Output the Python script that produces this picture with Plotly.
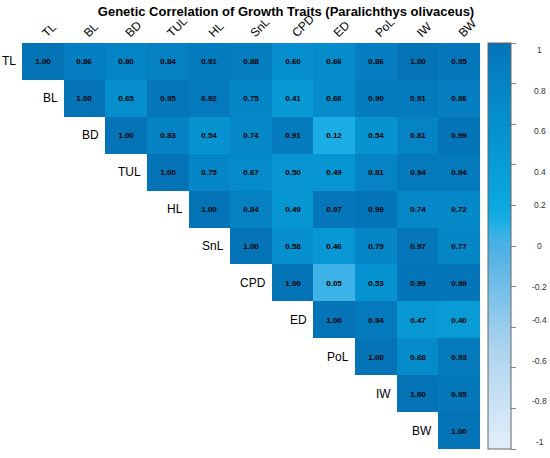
import plotly.graph_objects as go

traits = ["TL", "BL", "BD", "TUL", "HL", "SnL", "CPD", "ED", "PoL", "IW", "BW"]

# upper-triangle genetic correlations, one row per trait (starting at the diagonal)
r_TL = [1.00, 0.86, 0.80, 0.84, 0.91, 0.88, 0.60, 0.66, 0.86, 1.00, 0.95]
r_BL = [1.00, 0.65, 0.95, 0.92, 0.75, 0.41, 0.66, 0.90, 0.91, 0.86]
r_BD = [1.00, 0.83, 0.54, 0.74, 0.91, 0.12, 0.54, 0.81, 0.99]
r_TUL = [1.00, 0.75, 0.67, 0.50, 0.49, 0.81, 0.94, 0.94]
r_HL = [1.00, 0.84, 0.49, 0.97, 0.99, 0.74, 0.72]
r_SnL = [1.00, 0.58, 0.46, 0.79, 0.97, 0.77]
r_CPD = [1.00, 0.05, 0.53, 0.99, 0.99]
r_ED = [1.00, 0.94, 0.47, 0.40]
r_PoL = [1.00, 0.68, 0.93]
r_IW = [1.00, 0.95]
r_BW = [1.00]

cbar_ticks = [1, 0.8, 0.6, 0.4, 0.2, 0, -0.2, -0.4, -0.6, -0.8, -1]

rows = [r_TL, r_BL, r_BD, r_TUL, r_HL, r_SnL, r_CPD, r_ED, r_PoL, r_IW, r_BW]
n = len(traits)
z = []
txt = []
for i, r in enumerate(rows):
    zr = [None] * i + r
    z.append(zr)
    txt.append(["" if v is None else f"{v:.2f}" for v in zr])

colorscale = [
    [0.0, "#e3eff9"],
    [0.25, "#acd3ee"],
    [0.5, "#4cb0e3"],
    [0.525, "#3db2e6"],
    [0.56, "#1aaee4"],
    [0.6, "#0ca8e0"],
    [0.7, "#099bd6"],
    [0.75, "#0695d2"],
    [0.9, "#0584c5"],
    [1.0, "#0474b7"],
]

fig = go.Figure(go.Heatmap(
    z=z, x=list(range(n)), y=list(range(n)),
    text=txt, texttemplate="<b>%{text}</b>",
    textfont=dict(size=8, color="black", family="Arial, Liberation Sans"),
    colorscale=colorscale, zmin=-1, zmax=1,
    hoverongaps=False,
    colorbar=dict(
        x=1.0175, xanchor="left", xpad=0, ypad=0, y=0.5, len=1, lenmode="fraction",
        thickness=23, outlinecolor="#666", outlinewidth=1,
        tickvals=cbar_ticks, ticks="outside", ticklen=5, tickcolor="#888",
        showticklabels=False,
    ),
))

# row labels sit just left of each diagonal cell
for i, t in enumerate(traits):
    fig.add_annotation(x=i - 0.5, y=i, text=t, showarrow=False, xanchor="right",
                       xshift=-4, font=dict(size=12, color="black"))

# colorbar labels, placed at value -1..1 -> paper 0..1
for v in cbar_ticks:
    fig.add_annotation(x=1.131, xref="paper", y=(v + 1) / 2, yref="paper",
                       text=f"{v:g}", showarrow=False, xanchor="center",
                       font=dict(size=8.5, color="#333"))

fig.update_layout(
    width=550, height=458,
    margin=dict(l=22, r=70, t=43, b=9, autoexpand=False),
    paper_bgcolor="white", plot_bgcolor="white",
    font=dict(family="Arial, Liberation Sans", color="black"),
    title=dict(text="<b>Genetic Correlation of Growth Traits (Paralichthys olivaceus)</b>",
               x=0.52, xanchor="center", y=0.976, yanchor="middle",
               font=dict(size=13, color="black")),
    xaxis=dict(side="top", tickvals=list(range(n)), ticktext=traits, tickangle=-45,
               showgrid=False, zeroline=False, ticks="", tickfont=dict(size=12),
               range=[-0.5, n - 0.5], automargin=False),
    yaxis=dict(showticklabels=False, showgrid=False, zeroline=False,
               range=[n - 0.5, -0.5], automargin=False),
)

# drop the default page margin so the figure sits at the window's corner
fig.write_html("out.html", config={"displayModeBar": False},
               post_script="document.body.style.margin='0';")
